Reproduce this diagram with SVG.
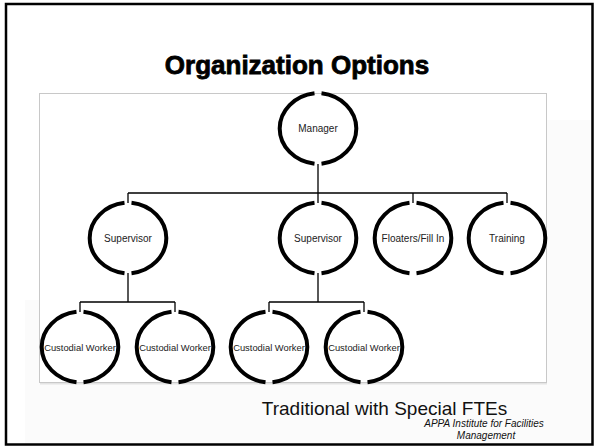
<svg xmlns="http://www.w3.org/2000/svg" xmlns:xlink="http://www.w3.org/1999/xlink" width="594" height="446" viewBox="0 0 594 446">
<style>
.ring{fill:none;stroke:#000;stroke-width:4}
.lbl{font-family:"Liberation Sans",Arial,sans-serif;font-size:10px;fill:#222;text-anchor:middle}
.cw{font-size:9.4px}
.conn{stroke:#000;stroke-width:1.3;fill:none}
</style>
<defs>
<g id="ring">
<path class="ring" d="M3.5,-35.2 A40 35.5 0 0 1 3.5,35.2 M-3.5,35.2 A40 35.5 0 0 1 -3.5,-35.2"/>
</g>
</defs>
<rect x="0" y="0" width="594" height="446" fill="#fff"/>
<path d="M25,300 H547 V120 H592 V444 H25 Z" fill="#fbfbfb"/>
<rect x="6" y="4" width="586.5" height="440.5" fill="none" stroke="#000" stroke-width="2.5"/>
<text x="297" y="74" font-family="'Liberation Sans',Arial,sans-serif" font-size="26" font-weight="bold" text-anchor="middle" stroke="#000" stroke-width="0.8">Organization Options</text>
<line x1="40" y1="383.5" x2="547" y2="383.5" stroke="#e4e4e4" stroke-width="2"/>
<rect x="39.5" y="93.5" width="507" height="289" fill="#fff" stroke="#c8c8c8" stroke-width="1"/>
<g id="connectors" class="conn">
<path d="M318,164 V193 M128,193 H507 M128,193 V203 M318,193 V203 M413,193 V203 M507,193 V203"/>
<path d="M128,273 V302 M80,302 H175 M80,302 V312 M175,302 V312"/>
<path d="M318,273 V302 M269,302 H364 M269,302 V312 M364,302 V312"/>
</g>
<g id="manager"><use xlink:href="#ring" x="318" y="128.5"/><text class="lbl" x="318" y="132">Manager</text></g>
<g id="supervisor1"><use xlink:href="#ring" x="128" y="238"/><text class="lbl" x="128" y="241.5">Supervisor</text></g>
<g id="supervisor2"><use xlink:href="#ring" x="318" y="238"/><text class="lbl" x="318" y="241.5">Supervisor</text></g>
<g id="floaters"><use xlink:href="#ring" x="413" y="238"/><text class="lbl" x="413" y="241.5">Floaters/Fill In</text></g>
<g id="training"><use xlink:href="#ring" x="507" y="238"/><text class="lbl" x="507" y="241.5">Training</text></g>
<g id="custodial1"><use xlink:href="#ring" x="80" y="347"/><text class="lbl cw" x="80" y="350.5">Custodial Worker</text></g>
<g id="custodial2"><use xlink:href="#ring" x="175" y="347"/><text class="lbl cw" x="175" y="350.5">Custodial Worker</text></g>
<g id="custodial3"><use xlink:href="#ring" x="269" y="347"/><text class="lbl cw" x="269" y="350.5">Custodial Worker</text></g>
<g id="custodial4"><use xlink:href="#ring" x="364" y="347"/><text class="lbl cw" x="364" y="350.5">Custodial Worker</text></g>
<text x="384.5" y="415" font-family="'Liberation Sans',Arial,sans-serif" font-size="19" fill="#111" text-anchor="middle">Traditional with Special FTEs</text>
<text font-family="'Liberation Sans',Arial,sans-serif" font-size="10" font-style="italic" fill="#111" text-anchor="middle"><tspan x="484" y="427">APPA Institute for Facilities</tspan><tspan x="486" y="439">Management</tspan></text>
</svg>
